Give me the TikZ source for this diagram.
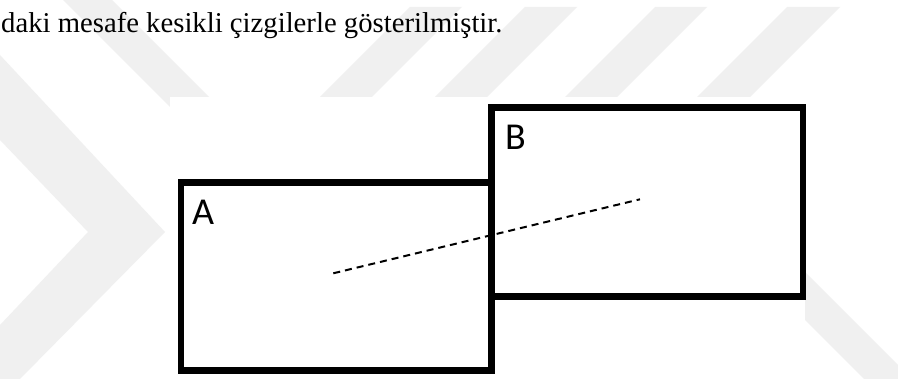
\documentclass[tikz,border=0pt]{standalone}
\usepackage{fontspec}
\setmainfont{Liberation Serif}
\newfontfamily\labelfont{Carlito}
\definecolor{wm}{RGB}{240,240,240}
\begin{document}
\begin{tikzpicture}[x=1pt,y=-1pt,
  boxline/.style={line width=6.7pt,line join=miter},
  distline/.style={line width=2pt,dash pattern=on 7pt off 5pt},
  boxlabel/.style={font=\labelfont\fontsize{38}{40}\selectfont,inner sep=0pt,anchor=base west},
  wmark/.style={fill=wm,draw=none}]
\useasboundingbox (0,0) rectangle (898,379);
\fill[white] (0,0) rectangle (898,379);
% watermark
\fill[wmark] (63,0) -- (112,0) -- (300,188) -- (251,188) -- cycle;
\fill[wmark] (0,55) -- (165,232) -- (20,379) -- (0,379) -- (0,325) -- (88,232) -- (0,140) -- cycle;
\fill[wmark] (410,7) -- (462,7) -- (372,97) -- (320,97) -- cycle;
\fill[wmark] (525,7) -- (577,7) -- (487,97) -- (435,97) -- cycle;
\fill[wmark] (655,7) -- (707,7) -- (617,97) -- (565,97) -- cycle;
\fill[wmark] (787,7) -- (840,7) -- (750,97) -- (697,97) -- cycle;
\fill[wmark] (805,272) -- (898,365) -- (898,379) -- (864,379) -- (805,320) -- cycle;
% diagram white background
\fill[white] (170,97) rectangle (805,375);
% text
\node[anchor=base west,inner sep=0pt,font=\fontsize{28.7}{34}\selectfont] (cap) at (1,33) {daki mesafe kesikli çizgilerle gösterilmiştir.};
% boxes
\node[boxline,draw,minimum width=310.5pt,minimum height=188pt,inner sep=0pt,anchor=north west] (A) at (177.5,179.5) {};
\node[boxline,draw,minimum width=311.5pt,minimum height=189pt,inner sep=0pt,anchor=north west] (B) at (488,104.5) {};
\node[boxlabel] (la) at (192,225) {A};
\node[boxlabel] (lb) at (505,150) {B};
\coordinate (pa) at (333.3,273.3);
\coordinate (pb) at (640,199.3);
\draw[distline] (pa) -- (pb);
\end{tikzpicture}
\end{document}
